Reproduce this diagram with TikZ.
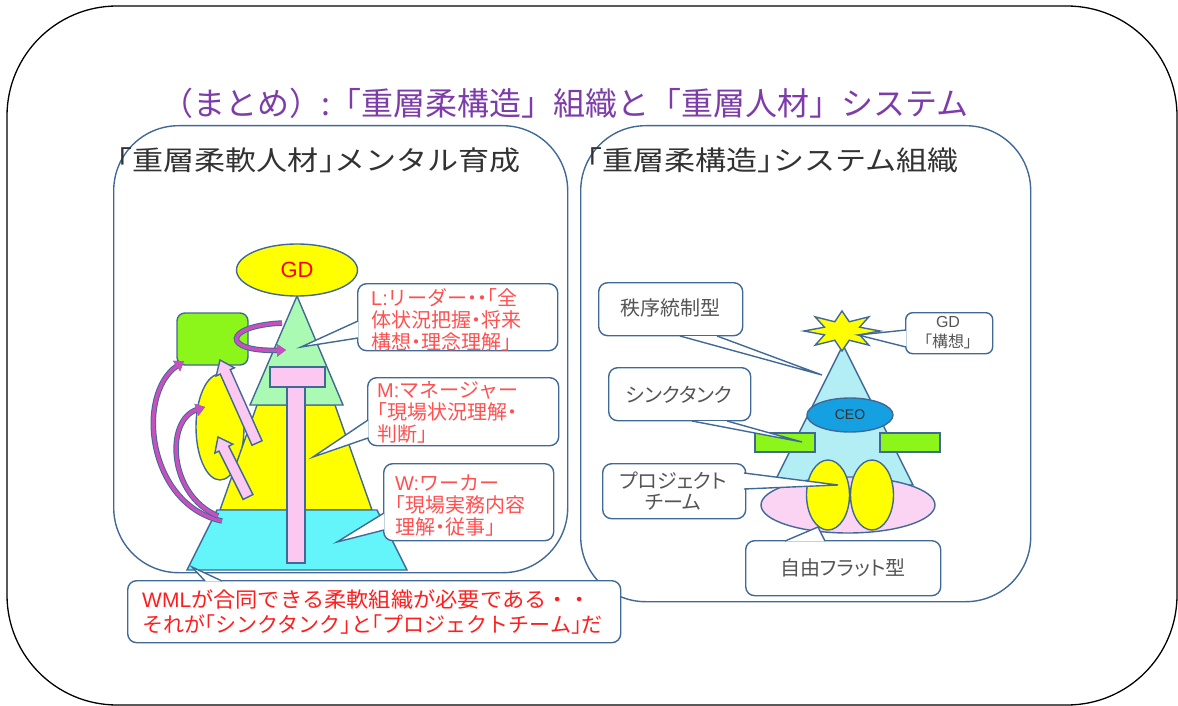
\documentclass[tikz,border=0pt]{standalone}
\usepackage{fontspec}
\setmainfont{Noto Sans CJK JP}
\newfontfamily\jph[RawFeature=+halt]{Noto Sans CJK JP}
\newfontfamily\jpp[RawFeature=+palt]{Noto Sans CJK JP}
\newfontfamily\jpt[RawFeature=+halt, FakeStretch=1.15]{Noto Sans CJK JP}
\newfontfamily\jpw[FakeStretch=1.06]{Noto Sans CJK JP}
\newfontfamily\lat{Liberation Sans}
\usetikzlibrary{arrows.meta,calc,shapes.geometric}
\definecolor{bordc}{RGB}{65,105,150}
\definecolor{ttlpurple}{RGB}{125,60,170}
\definecolor{lred}{RGB}{255,80,80}
\definecolor{wred}{RGB}{255,30,30}
\definecolor{gtext}{RGB}{85,85,85}
\definecolor{dtext}{RGB}{50,50,50}
\definecolor{hgreen}{RGB}{140,245,26}
\definecolor{lgreen}{RGB}{170,250,180}
\definecolor{yel}{RGB}{255,255,0}
\definecolor{cya}{RGB}{100,245,250}
\definecolor{pnk}{RGB}{250,200,240}
\definecolor{mag}{RGB}{200,80,190}
\definecolor{lblue}{RGB}{180,238,245}
\definecolor{ceob}{RGB}{20,160,225}
\definecolor{lpink}{RGB}{250,212,242}
\newcommand\myfs[2]{\fontsize{#1}{#2}\selectfont}
\newcommand\callptr[3]{\fill[white] (#1) -- (#3) -- (#2) -- cycle;
  \draw[shp, line join=miter] (#1) -- (#3) -- (#2);}
\newcommand\blkarrow[2]{%
  \coordinate (#1h) at ($(#2)!13pt!(#1)$);
  \draw[shp, fill=pnk, line join=miter]
    ($(#1)!5.5pt!90:(#2)$) -- ($(#1h)!5.5pt!90:(#2)$) -- ($(#1h)!10pt!90:(#2)$)
    -- (#2) -- ($(#1h)!10pt!-90:(#2)$) -- ($(#1h)!5.5pt!-90:(#2)$)
    -- ($(#1)!5.5pt!-90:(#2)$) -- cycle;}
\begin{document}
\begin{tikzpicture}[x=1pt,y=-1pt,
  shp/.style={draw=bordc, line width=1.4pt},
  panel/.style={shp, rounded corners=65pt, anchor=north west, inner sep=0pt},
  callbox/.style={shp, fill=white, rounded corners=9pt, anchor=north west, inner sep=0pt},
  ltext/.style={text=lred, anchor=west, align=left, inner sep=0pt, font=\jph\myfs{20}{22}},
  rtext/.style={text=gtext, align=center, inner sep=0pt, font=\jpp\myfs{20}{21}},
  ptitle/.style={anchor=west, text=dtext, font=\jpt\myfs{27}{27}, inner sep=0pt},
  carrow/.style={draw=mag, line width=3.5pt, -{Triangle[length=9pt,width=12pt]},
     preaction={draw=bordc, line width=5.5pt, -{Triangle[length=9pt,width=12pt]}}},
  ell/.style={shp, ellipse, inner sep=0pt}]
\useasboundingbox (0,0) rectangle (1178,706);
% outer frame
\draw[black, line width=1.3pt, rounded corners=110pt] (7,6) rectangle (1177,705);
% title
\node[text=ttlpurple, font=\myfs{32}{32}, inner sep=0pt] (title) at (565,103) {（まとめ）:「重層柔構造」組織と「重層人材」システム};
% panels
\node[panel, minimum width=454pt, minimum height=447pt] (lpanel) at (113,125) {};
\node[panel, minimum width=450pt, minimum height=476pt] (rpanel) at (580,125) {};
\node[ptitle] (ltitle) at (117,160) {「重層柔軟人材」メンタル育成};
\node[ptitle] (rtitle) at (587,160) {「重層柔構造」システム組織};
% ---------- left diagram ----------
\node[ell, fill=yel, minimum width=48pt, minimum height=106pt] (yell) at (220,427) {};
\draw[shp, fill=yel] (257,405) -- (335,405) -- (372,510) -- (220,510) -- cycle;
\draw[shp, fill=cya] (217,510) -- (377,510) -- (407,570) -- (187,570) -- cycle;
\draw[shp, fill=lgreen] (297,296) -- (343,405) -- (250,405) -- cycle;
\node[ell, fill=yel, minimum width=121pt, minimum height=52pt, text=red, font=\lat\myfs{22}{22}] (gd) at (297,270) {GD};
\draw[shp, fill=pnk] (287,387) rectangle (305,563);
\draw[shp, fill=pnk] (270,367) rectangle (325,387);
\node[shp, fill=hgreen, rounded corners=8pt, minimum width=71pt, minimum height=52pt, inner sep=0pt] (gbox) at (212.5,339) {};
\coordinate (a1t) at (257,443); \coordinate (a1h) at (220,360);
\coordinate (a2t) at (248,497); \coordinate (a2h) at (218,437);
\blkarrow{a1t}{a1h}
\blkarrow{a2t}{a2h}
\draw[carrow] (222,521) .. controls (148,505) and (135,395) .. (184,361);
\draw[carrow] (218,516) .. controls (168,495) and (165,420) .. (205,407);
\draw[carrow] (282,323) .. controls (222,326) and (222,352) .. (286,350);
% left callouts
\node[callbox, minimum width=200pt, minimum height=67pt] (Lbox) at (357,283) {};
\node[callbox, minimum width=191pt, minimum height=68pt] (Mbox) at (367,377) {};
\node[callbox, minimum width=170pt, minimum height=77pt] (Wbox) at (383,463) {};
\coordinate (Ltip) at (301,347); \coordinate (Mtip) at (313,457); \coordinate (Wtip) at (337,542);
\callptr{358,321}{358,338}{Ltip}
\callptr{368,420}{368,438}{Mtip}
\callptr{384,513}{384,530}{Wtip}
\node[ltext] (Ltext) at (371,320) {{\lat L:}リーダー・・「全\\体状況把握・将来\\構想・理念理解」};
\node[ltext] (Mtext) at (377,412) {{\lat M:}マネージャー\\「現場状況理解・\\判断」};
\node[ltext] (Wtext) at (395,505) {{\lat W:}ワーカー\\「現場実務内容\\理解・従事」};
% WML callout
\node[callbox, minimum width=493pt, minimum height=62pt] (wml) at (127,580) {};
\coordinate (wmltip) at (192,567);
\callptr{205,581}{222,581}{wmltip}
\node[anchor=west, text=wred, align=left, inner sep=0pt, font=\jph\myfs{21}{25}] (wmltext) at (142,612) {{\lat WML}{\jpw が合同できる柔軟組織が必要である・・}\\それが「シンクタンク」と「プロジェクトチーム」だ};
% ---------- right diagram ----------
\draw[shp, fill=lblue] (843,345) -- (913,485) -- (773,485) -- cycle;
\node[ell, fill=lpink, minimum width=174pt, minimum height=56pt] (pell) at (848,505) {};
\node[ell, fill=yel, minimum width=43pt, minimum height=70pt] (y1) at (828,495) {};
\node[ell, fill=yel, minimum width=43pt, minimum height=70pt] (y2) at (872,495) {};
\draw[shp, fill=hgreen] (755,433) rectangle (815,452);
\draw[shp, fill=hgreen] (880,433) rectangle (940,452);
\node[ell, fill=ceob, minimum width=86pt, minimum height=34pt, text=dtext, font=\lat\myfs{14}{14}] (ceo) at (850,415) {CEO};
\draw[shp, fill=yel, line join=miter] plot[variable=\k, samples at={0,...,15}]
  ({842+(1-0.5*mod(\k,2))*38*cos(90+22.5*\k)}, {331-(1-0.5*mod(\k,2))*20*sin(90+22.5*\k)}) -- cycle;
\node[callbox, minimum width=144pt, minimum height=53pt] (chit) at (598,282) {};
\node[callbox, minimum width=142pt, minimum height=53pt] (think) at (608,367) {};
\node[callbox, minimum width=143pt, minimum height=55pt] (proj) at (602,463) {};
\node[callbox, minimum width=195pt, minimum height=55pt] (flat) at (745,540) {};
\node[callbox, minimum width=87pt, minimum height=41pt, rounded corners=7pt] (gdc) at (905,312) {};
\coordinate (chittip) at (822,375); \coordinate (thinktip) at (802,442);
\coordinate (projtip) at (838,485); \coordinate (flattip) at (818,527);
\coordinate (gdtip) at (858,335);
\callptr{680,336}{717,336}{chittip}
\callptr{692,421}{727,421}{thinktip}
\callptr{744,473}{744,489}{projtip}
\callptr{785,541}{825,541}{flattip}
\callptr{906,330}{906,347}{gdtip}
\node[rtext] (chitt) at (670,308) {秩序統制型};
\node[rtext] (thinkt) at (679,395) {シンクタンク};
\node[rtext] (projt) at (673,491) {プロジェクト\\チーム};
\node[rtext] (flatt) at (843,568) {自由フラット型};
\node[rtext, font=\jpp\myfs{16}{20}] (gdt) at (948,333) {{\lat GD}\\「構想」};
\end{tikzpicture}
\end{document}
